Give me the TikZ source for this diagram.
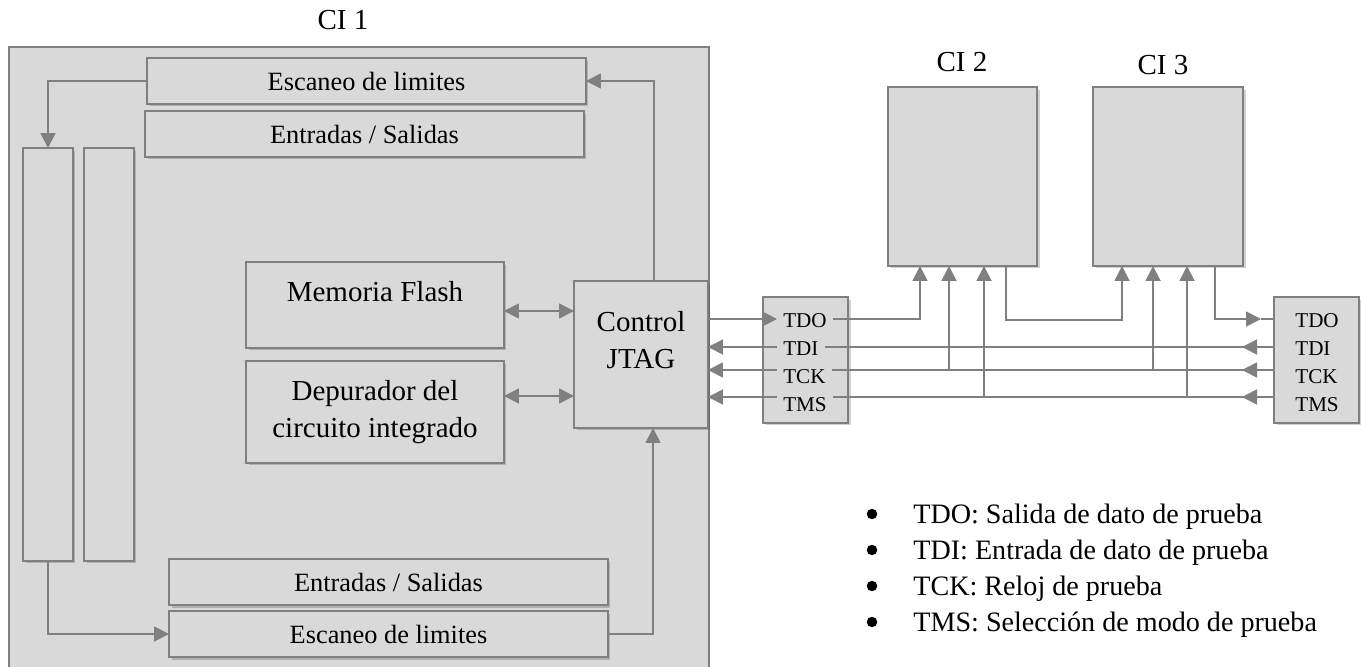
\documentclass[tikz,border=0pt]{standalone}
\usepackage{fontspec}
\setmainfont{Liberation Serif}
\usepackage{tikz}
\usetikzlibrary{arrows.meta, shadows}
\definecolor{boxfill}{HTML}{D9D9D9}
\definecolor{boxline}{HTML}{808080}

\begin{document}
\begin{tikzpicture}
  [x=0.02cm, y=-0.02cm,
   >={Triangle[length=0.3cm, width=0.3cm]},
   blk/.style={rectangle, fill=boxfill, draw=boxline, line width=1pt,
     inner sep=0pt, outer sep=0pt, align=center},
   shd/.style={drop shadow={shadow xshift=0.05cm, shadow yshift=-0.05cm,
     fill=black, opacity=0.18}},
   mid/.style={font=\fontsize{15}{18}\selectfont},
   big/.style={font=\fontsize{16.5}{21.5}\selectfont, align=center},
   pin/.style={anchor=west, inner xsep=0.12cm, inner ysep=0pt,
     font=\fontsize{12}{14}\selectfont},
   leg/.style={inner sep=0pt, font=\fontsize{16}{19}\selectfont},
   dot/.style={circle, fill=black, inner sep=0pt, minimum size=0.21cm},
   wire/.style={draw=boxline, line width=1pt},
   arr/.style={wire, ->},
   arr2/.style={wire, <->}]
  \useasboundingbox (0,0) rectangle (1361,666);

  % CI 1
  \node[blk, minimum width=14cm, minimum height=12.42cm] (ci1) at (359,357.5) {};
  \node[big] (ci1lbl) at (343,20) {CI 1};
  \node[blk, shd, mid, minimum width=8.78cm, minimum height=0.92cm] (scanT) at (366.5,81) {Escaneo de limites};
  \node[blk, shd, mid, minimum width=8.78cm, minimum height=0.92cm] (ioT) at (364.5,134) {Entradas / Salidas};
  \node[blk, shd, minimum width=1cm, minimum height=8.26cm] (barA) at (48,354.5) {};
  \node[blk, shd, minimum width=1cm, minimum height=8.26cm] (barB) at (109,354.5) {};
  \node[blk, shd, mid, minimum width=8.78cm, minimum height=0.92cm] (ioB) at (388.5,582) {Entradas / Salidas};
  \node[blk, shd, mid, minimum width=8.78cm, minimum height=0.92cm] (scanB) at (388.5,634) {Escaneo de limites};
  \node[blk, shd, minimum width=5.16cm, minimum height=1.72cm] (flash) at (375,305) {};
  \node[big] (flashtxt) at (375,292) {Memoria Flash};
  \node[blk, shd, big, minimum width=5.16cm, minimum height=2.04cm] (debug) at (375,412) {Depurador del\\circuito integrado};
  \node[blk, shd, minimum width=2.68cm, minimum height=2.94cm] (jtag) at (641,354.5) {};
  \node[big] (jtagtxt) at (641,340) {Control\\JTAG};

  % CI 2 y CI 3
  \node[blk, shd, minimum width=2.98cm, minimum height=3.58cm] (ci2) at (962.5,176.5) {};
  \node[blk, shd, minimum width=3cm, minimum height=3.58cm] (ci3) at (1168,176.5) {};
  \node[big] (ci2lbl) at (962,62) {CI 2};
  \node[big] (ci3lbl) at (1163,65) {CI 3};

  % conectores
  \node[blk, shd, minimum width=1.7cm, minimum height=2.52cm] (conL) at (805.5,360) {};
  \node[blk, shd, minimum width=1.7cm, minimum height=2.52cm] (conR) at (1316.5,360) {};
  \foreach \nm/\yy in {TDO/321, TDI/349, TCK/377, TMS/405} {
    \node[pin] (l\nm) at (777,\yy) {\nm};
    \node[pin] (r\nm) at (1289,\yy) {\nm};
  }
  \foreach \nm/\yy in {TDO/319, TDI/347, TCK/370, TMS/397}
    \coordinate (y\nm) at (0,\yy);

  % flechas internas
  \draw[arr] (scanT.west) -| (barA.north);
  \draw[arr] (barA.south) |- (scanB.west);
  \draw[arr] (654,0 |- jtag.north) |- (scanT.east);
  \draw[arr] (scanB.east) -| (653,0 |- jtag.south);
  \draw[arr2] (flash.east |- 0,311) -- (jtag.west |- 0,311);
  \draw[arr2] (debug.east |- 0,396) -- (jtag.west |- 0,396);

  % bus JTAG
  \draw[arr] (jtag.east |- yTDO) -- (lTDO.west |- yTDO);
  \draw[arr] (lTDO.east |- yTDO) -| (920,0 |- ci2.south);
  \draw[arr] (1006,0 |- ci2.south) -- ++(0,54) -| (1122,0 |- ci3.south);
  \draw[arr] (1215,0 |- ci3.south) |- (1261,0 |- yTDO);
  \draw[wire] (1261,0 |- yTDO) -- (conR.west |- yTDO);
  \foreach \nm in {TDI, TCK, TMS} {
    \draw[arr] (l\nm.west |- y\nm) -- (jtag.east |- y\nm);
    \draw[wire] (l\nm.east |- y\nm) -- (conR.west |- y\nm);
    \draw[arr] (conR.west |- y\nm) -- ++(-32,0);
  }
  \draw[arr] (949,0 |- yTCK) -- (949,0 |- ci2.south);
  \draw[arr] (984,0 |- yTMS) -- (984,0 |- ci2.south);
  \draw[arr] (1153,0 |- yTCK) -- (1153,0 |- ci3.south);
  \draw[arr] (1187,0 |- yTMS) -- (1187,0 |- ci3.south);

  % leyenda
  \foreach \i/\itm in {1/{TDO: Salida de dato de prueba},
      2/{TDI: Entrada de dato de prueba}, 3/{TCK: Reloj de prueba},
      4/{TMS: Selección de modo de prueba}} {
    \node[dot] (bul\i) at (872,478+36*\i) {};
    \node[leg, anchor=west] (leg\i) at (913,481+36*\i) {\itm};
  }
\end{tikzpicture}
\end{document}
